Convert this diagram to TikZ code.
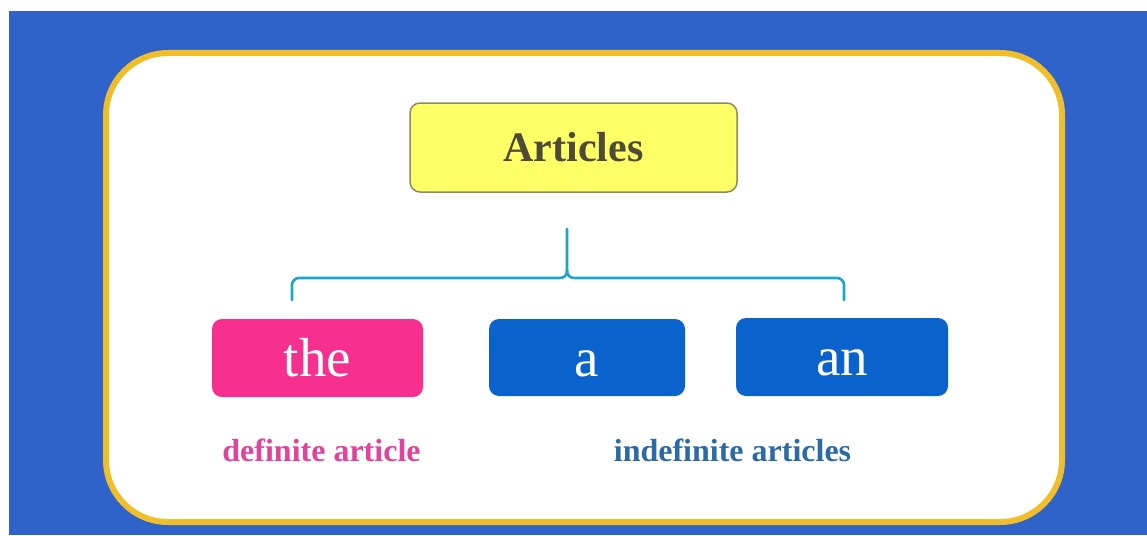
\documentclass[tikz,border=0pt]{standalone}
\usepackage{fontspec}
\setmainfont{Liberation Serif}
\definecolor{bgblue}{HTML}{2F63C9}
\definecolor{frameyellow}{HTML}{F0BE2A}
\definecolor{boxyellow}{HTML}{FFFF66}
\definecolor{boxyellowedge}{HTML}{8C8C5C}
\definecolor{titletext}{HTML}{4D4A38}
\definecolor{pinkbox}{HTML}{F7308F}
\definecolor{bluebox}{HTML}{0A62CC}
\definecolor{bracecyan}{HTML}{1AA6C8}
\definecolor{pinklabel}{HTML}{E0449A}
\definecolor{bluelabel}{HTML}{2C6AA6}
\tikzset{
  wordbox/.style={rounded corners=10pt, inner sep=0pt, text=white,
    text height=37pt, text depth=0pt,
    font=\fontsize{55}{60}\selectfont},
  labeltext/.style={inner sep=0pt, anchor=base, font=\bfseries\fontsize{32}{36}\selectfont},
  bracepath/.style={draw=bracecyan, line width=2.6pt, line cap=round, line join=round}
}
\begin{document}
\begin{tikzpicture}[x=1pt,y=-1pt]
\useasboundingbox (0,0) rectangle (1147,535);
\fill[white] (0,0) rectangle (1147,535);
\fill[bgblue] (9,11) rectangle (1147,535);
\draw[frameyellow, line width=6pt, fill=white, rounded corners=62pt] (106,53) rectangle (1062,522);

\node[draw=boxyellowedge, fill=boxyellow, line width=1.5pt, rounded corners=10pt,
  minimum width=327pt, minimum height=89pt, inner sep=0pt, text=titletext,
  font=\bfseries\fontsize{42}{46}\selectfont] (art) at (573.5,147.5) {Articles};

\node[wordbox, fill=pinkbox, minimum width=211pt, minimum height=78pt] (the) at (317.5,358) {the};
\node[wordbox, fill=bluebox, minimum width=196pt, minimum height=77pt] (a) at (587,357.5) {a};
\node[wordbox, fill=bluebox, minimum width=212pt, minimum height=78pt] (an) at (842,357) {an};

\node[labeltext, text=pinklabel] (deflab) at (321.5,461) {definite article};
\node[labeltext, text=bluelabel] (indeflab) at (732.5,461) {indefinite articles};

\coordinate (btop) at (567,229);
\coordinate (bleft) at (292,300);
\coordinate (bright) at (844,300);
\draw[bracepath] (bleft) -- (292,285) arc[start angle=180, end angle=90, radius=7pt]
  -- (559,278) .. controls (564,278) and (567,276) .. (567,270) -- (btop);
\draw[bracepath] (bright) -- (844,285) arc[start angle=0, end angle=90, radius=7pt]
  -- (575,278) .. controls (570,278) and (567,276) .. (567,270);
\end{tikzpicture}
\end{document}
